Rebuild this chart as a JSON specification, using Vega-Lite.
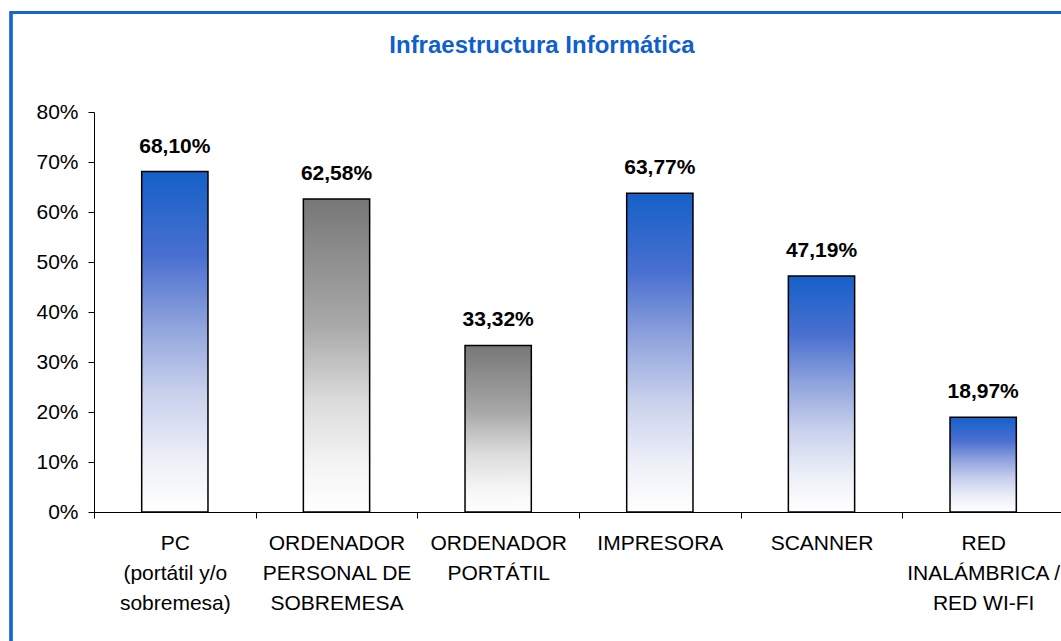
{
  "$schema": "https://vega.github.io/schema/vega-lite/v6.json",
  "autosize": "none",
  "width": 970,
  "height": 400,
  "padding": {"left": 94, "top": 112, "right": 0, "bottom": 129},
  "background": "white",
  "title": {
    "text": "Infraestructura Informática",
    "font": "Liberation Sans",
    "fontSize": 24,
    "fontWeight": "bold",
    "color": "#0F5FCF",
    "anchor": "middle",
    "frame": "group",
    "dx": -37,
    "offset": -47
  },
  "data": {
    "values": [
      {"categoria": "PC\n(portátil y/o\nsobremesa)", "valor": 0.6810, "tipo": "azul"},
      {"categoria": "ORDENADOR\nPERSONAL DE\nSOBREMESA", "valor": 0.6258, "tipo": "gris"},
      {"categoria": "ORDENADOR\nPORTÁTIL", "valor": 0.3332, "tipo": "gris"},
      {"categoria": "IMPRESORA", "valor": 0.6377, "tipo": "azul"},
      {"categoria": "SCANNER", "valor": 0.4719, "tipo": "azul"},
      {"categoria": "RED\nINALÁMBRICA /\nRED WI-FI", "valor": 0.1897, "tipo": "azul"}
    ]
  },
  "encoding": {
    "x": {
      "field": "categoria",
      "type": "nominal",
      "sort": ["PC\n(portátil y/o\nsobremesa)", "ORDENADOR\nPERSONAL DE\nSOBREMESA", "ORDENADOR\nPORTÁTIL", "IMPRESORA", "SCANNER", "RED\nINALÁMBRICA /\nRED WI-FI"],
      "scale": {"paddingInner": 0, "paddingOuter": 0},
      "axis": {
        "title": null,
        "labelAngle": 0,
        "tickBand": "extent",
        "tickSize": 6,
        "tickColor": "black",
        "domainColor": "black",
        "labelFont": "Liberation Sans",
        "labelFontSize": 21,
        "labelColor": "black",
        "labelLineHeight": 30,
        "labelPadding": 14,
        "labelLimit": 300,
        "labelExpr": "split(datum.label, '\\n')"
      }
    },
    "y": {
      "field": "valor",
      "type": "quantitative",
      "scale": {"domain": [0, 0.8], "nice": false},
      "axis": {
        "title": null,
        "grid": false,
        "values": [0, 0.1, 0.2, 0.3, 0.4, 0.5, 0.6, 0.7, 0.8],
        "format": ".0%",
        "tickSize": 6,
        "tickColor": "black",
        "domainColor": "black",
        "labelFont": "Liberation Sans",
        "labelFontSize": 21,
        "labelColor": "black",
        "labelPadding": 10
      }
    }
  },
  "layer": [
    {
      "mark": {"type": "rect", "fill": null, "stroke": "#1766D0", "strokeWidth": 2.5, "clip": false},
      "encoding": {
        "x": {"value": -83},
        "x2": {"value": 1010},
        "y": {"value": -99.5},
        "y2": {"value": 600}
      }
    },
    {
      "transform": [{"filter": "datum.tipo == 'azul'"}],
      "mark": {
        "type": "bar",
        "width": {"band": 0.41},
        "stroke": "black",
        "strokeWidth": 1.5,
        "fill": {
          "gradient": "linear",
          "x1": 0, "y1": 0, "x2": 0, "y2": 1,
          "stops": [
            {"offset": 0, "color": "#1560C8"},
            {"offset": 0.25, "color": "#4A70D0"},
            {"offset": 0.45, "color": "#8EA2DC"},
            {"offset": 0.65, "color": "#C8D0EC"},
            {"offset": 0.85, "color": "#EEF0F8"},
            {"offset": 1, "color": "#FFFFFF"}
          ]
        }
      }
    },
    {
      "transform": [{"filter": "datum.tipo == 'gris'"}],
      "mark": {
        "type": "bar",
        "width": {"band": 0.41},
        "stroke": "black",
        "strokeWidth": 1.5,
        "fill": {
          "gradient": "linear",
          "x1": 0, "y1": 0, "x2": 0, "y2": 1,
          "stops": [
            {"offset": 0, "color": "#777777"},
            {"offset": 0.4, "color": "#A8A8A8"},
            {"offset": 0.65, "color": "#DCDCDC"},
            {"offset": 0.85, "color": "#F4F4F4"},
            {"offset": 1, "color": "#FFFFFF"}
          ]
        }
      }
    },
    {
      "mark": {
        "type": "text",
        "font": "Liberation Sans",
        "fontSize": 21,
        "fontWeight": "bold",
        "color": "black",
        "baseline": "alphabetic",
        "dy": -19
      },
      "encoding": {
        "text": {"field": "valor", "type": "quantitative", "format": ".2%"}
      }
    }
  ],
  "config": {
    "locale": {
      "number": {
        "decimal": ",",
        "thousands": ".",
        "grouping": [3],
        "currency": ["", " €"]
      }
    },
    "view": {"stroke": null}
  }
}
